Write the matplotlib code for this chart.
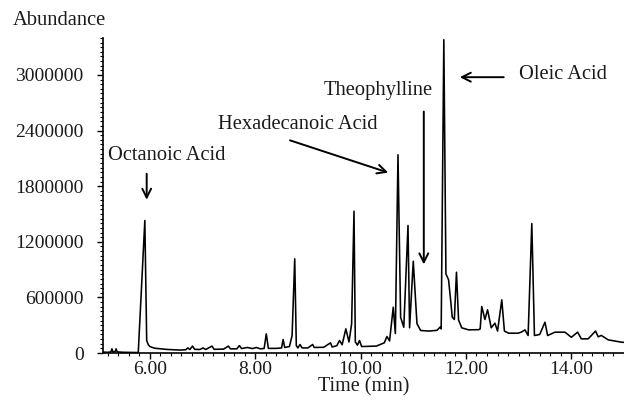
import numpy as np
import matplotlib.pyplot as plt
from matplotlib.ticker import MultipleLocator

plt.rcParams['font.family'] = ['Liberation Serif', 'DejaVu Serif']

# GC-MS total ion chromatogram, retention time (min) vs abundance
rt = [5.11, 5.20, 5.26, 5.28, 5.30, 5.34, 5.36, 5.38, 5.50, 5.65,
      5.78, 5.905, 5.94, 5.97, 6.00, 6.09, 6.32, 6.57, 6.68, 6.72,
      6.76, 6.81, 6.85, 6.95, 7.01, 7.06, 7.18, 7.22, 7.40, 7.49,
      7.53, 7.65, 7.70, 7.74, 7.85, 7.95, 8.02, 8.10, 8.17, 8.21,
      8.25, 8.40, 8.50, 8.53, 8.56, 8.65, 8.70, 8.75, 8.78, 8.81,
      8.85, 8.89, 9.00, 9.09, 9.12, 9.30, 9.43, 9.46, 9.55, 9.60,
      9.65, 9.72, 9.78, 9.83, 9.875, 9.90, 9.94, 9.98, 10.02, 10.15,
      10.30, 10.45, 10.50, 10.55, 10.62, 10.66, 10.71, 10.76, 10.82, 10.90,
      10.93, 11.00, 11.07, 11.14, 11.30, 11.45, 11.51, 11.53, 11.58, 11.62,
      11.67, 11.71, 11.74, 11.78, 11.82, 11.86, 11.92, 12.05, 12.24, 12.27,
      12.30, 12.36, 12.41, 12.48, 12.55, 12.60, 12.68, 12.73, 12.81, 12.99,
      13.05, 13.12, 13.18, 13.25, 13.30, 13.40, 13.50, 13.55, 13.69, 13.88,
      14.00, 14.12, 14.19, 14.32, 14.46, 14.51, 14.57, 14.70, 14.95, 15.00]
abundance = [10000, 8000, 12000, 45000, 12000, 15000, 45000, 12000, 8000, 6000,
             5000, 1430000, 135000, 90000, 70000, 52000, 39000, 32000, 35000, 55000,
             38000, 75000, 40000, 38000, 55000, 38000, 75000, 40000, 42000, 75000,
             45000, 45000, 80000, 48000, 60000, 48000, 60000, 45000, 50000, 207000,
             50000, 50000, 55000, 146000, 60000, 70000, 189000, 1016000, 80000, 55000,
             92000, 55000, 55000, 92000, 60000, 62000, 110000, 65000, 80000, 135000,
             90000, 261000, 120000, 315000, 1530000, 120000, 85000, 135000, 70000, 72000,
             75000, 110000, 178000, 130000, 494000, 210000, 2139000, 386000, 278000, 1376000,
             272000, 990000, 318000, 243000, 237000, 245000, 280000, 260000, 3380000, 854000,
             790000, 566000, 386000, 362000, 872000, 356000, 272000, 250000, 252000, 260000,
             502000, 362000, 466000, 272000, 322000, 237000, 574000, 237000, 214000, 214000,
             225000, 250000, 189000, 1397000, 189000, 200000, 333000, 189000, 225000, 225000,
             170000, 225000, 153000, 153000, 237000, 175000, 190000, 142000, 117000, 115000]

# compound labels: text position, arrow tail, arrow tip
labels = ['Octanoic Acid', 'Hexadecanoic Acid', 'Theophylline', 'Oleic Acid']
text_xy = [(6.32, 2130000), (8.80, 2466000), (10.33, 2833000), (13.85, 3005000)]
tail_xy = [(5.94, 1964000), (8.61, 2304000), (11.20, 2635000), (12.77, 2976000)]
tip_xy = [(5.94, 1624000), (10.575, 1937000), (11.20, 926000), (11.83, 2976000)]

fig = plt.figure(figsize=(6.24, 4.03), dpi=100)
ax = fig.add_axes([0.165, 0.124, 0.835, 0.782])

ax.plot(rt, abundance, color='black', lw=1.15)

for name, t, a, b in zip(labels, text_xy, tail_xy, tip_xy):
    ax.text(t[0], t[1], name, ha='center', va='center', fontsize=14.8, color='#1a1a1a')
    ax.annotate('', xy=b, xytext=a,
                arrowprops=dict(arrowstyle='->', color='black', lw=1.4,
                                mutation_scale=16))

ax.set_xlim(5.11, 15.0)
ax.set_ylim(0, 3400000)
ax.set_xticks(np.arange(6, 15, 2))
ax.set_xticklabels([f'{v:.2f}' for v in np.arange(6, 15, 2)])
ax.set_yticks(np.arange(0, 3000001, 600000))
ax.set_yticklabels([str(v) for v in range(0, 3000001, 600000)])
ax.xaxis.set_minor_locator(MultipleLocator(0.2))
ax.yaxis.set_minor_locator(MultipleLocator(50000))
ax.tick_params(which='major', length=4, width=1, labelsize=14, labelcolor='#1a1a1a')
ax.tick_params(which='minor', length=2.5, width=0.8)
ax.tick_params(axis='x', pad=2)
ax.tick_params(axis='y', pad=10)

for side in ['top', 'right']:
    ax.spines[side].set_visible(False)
ax.spines['left'].set_linewidth(1.2)
ax.spines['bottom'].set_linewidth(1.2)

ax.set_xlabel('Time (min)', fontsize=14.5, color='#1a1a1a', labelpad=-1)
fig.text(0.095, 0.95, 'Abundance', ha='center', va='center', fontsize=14.8, color='#1a1a1a')

fig.savefig('out.png', dpi=100)
